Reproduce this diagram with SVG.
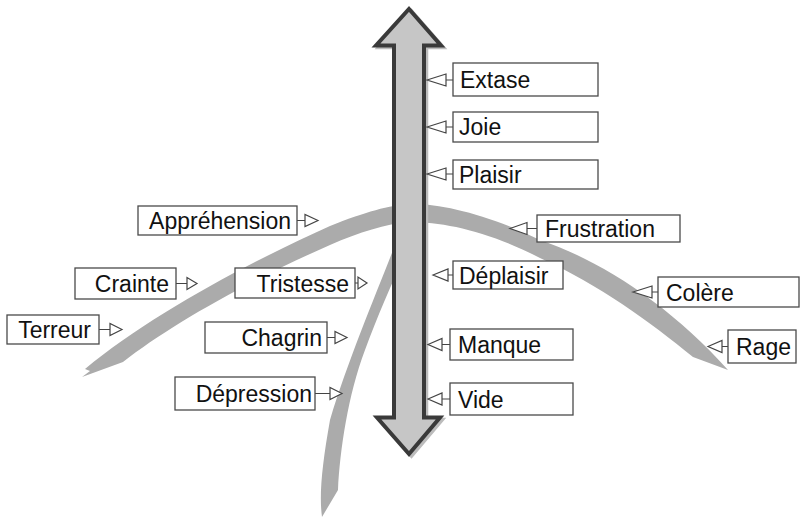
<svg xmlns="http://www.w3.org/2000/svg" width="803" height="518" viewBox="0 0 803 518">
  <style>
    .band { fill: #ababab; }
    .axis { fill: #c6c6c6; stroke: #3a3a3a; stroke-width: 4; stroke-linejoin: miter; }
    .axis-shadow { fill: none; stroke: #bcbcbc; stroke-width: 3.5; stroke-linejoin: miter; }
    .box { fill: #ffffff; stroke: #4a4a4a; stroke-width: 1.3; }
    .lbl { font-family: "Liberation Sans", Arial, sans-serif; font-size: 23px; fill: #111111; }
    .lbl-r { text-anchor: end; }
    .conn { fill: #ffffff; stroke: #444444; stroke-width: 1.2; stroke-linejoin: miter; }
  </style>

  <!-- grey curved bands -->
  <g id="bands">
    <path id="arc" class="band" d="M85,369 C150,315 250,262 330,226 C365,212 390,205 410,204 C440,203 490,215 540,240 C600,260 670,305 728,370 L693,357 C650,322 600,285 540,258 C490,232 445,222 410,222 C385,224 360,232 330,245 C250,280 170,325 123,362 L82,377 L90,371 Z"/>
    <path id="branch" class="band" d="M395,245 C377,292 348,360 330,420 C322,465 319,495 322,517 L338,490 C340,450 348,395 365,350 C378,315 395,275 410,245 Z"/>
  </g>

  <!-- vertical double-headed axis -->
  <g id="axis">
    <path class="axis-shadow" d="M411.5,11 L443.5,47.5 L426.5,47.5 L426.5,419.5 L442.5,419.5 L411.5,456 L379.5,419.5 L396.5,419.5 L396.5,47.5 L378.5,47.5 Z"/>
    <path class="axis" d="M409,9 L441,45.5 L424,45.5 L424,417.5 L440,417.5 L409,454 L377,417.5 L394,417.5 L394,45.5 L376,45.5 Z"/>
  </g>

  <!-- connectors: open triangles pointing at the axis or the bands -->
  <g id="connectors">
    <!-- right side, pointing left -->
    <path class="conn" d="M446,80 L453,80 M427,80 L446,74 L446,86 Z"/>
    <path class="conn" d="M446,127 L453,127 M427,127 L446,121 L446,133 Z"/>
    <path class="conn" d="M446,174 L453,174 M427,174 L446,168 L446,180 Z"/>
    <path class="conn" d="M527,228.5 L537,228.5 M510,228.5 L527,222.5 L527,234.5 Z"/>
    <path class="conn" d="M448,275 L453,275 M433,275 L448,269 L448,281 Z"/>
    <path class="conn" d="M652,292 L658,292 M633,292 L652,286 L652,298 Z"/>
    <path class="conn" d="M442,344.5 L450,344.5 M428,344.5 L442,338.5 L442,350.5 Z"/>
    <path class="conn" d="M722,346.5 L728,346.5 M708,346.5 L722,340.5 L722,352.5 Z"/>
    <path class="conn" d="M442,399 L450,399 M428,399 L442,393 L442,405 Z"/>
    <!-- left side, pointing right -->
    <path class="conn" d="M297,220.5 L305,220.5 M318,220.5 L305,214.5 L305,226.5 Z"/>
    <path class="conn" d="M176,283.5 L187,283.5 M197,283.5 L187,277.5 L187,289.5 Z"/>
    <path class="conn" d="M355,283 L358,283 M367,283 L358,277 L358,289 Z"/>
    <path class="conn" d="M99,329.5 L110,329.5 M122,329.5 L110,323.5 L110,335.5 Z"/>
    <path class="conn" d="M327,337.5 L335,337.5 M347,337.5 L335,331.5 L335,343.5 Z"/>
    <path class="conn" d="M315,393.5 L330,393.5 M342,393.5 L330,387.5 L330,399.5 Z"/>
  </g>

  <!-- label nodes -->
  <g id="extase"><rect class="box" x="453" y="63" width="145" height="33"/><text class="lbl" x="460" y="87.5">Extase</text></g>
  <g id="joie"><rect class="box" x="453" y="112" width="145" height="30"/><text class="lbl" x="459" y="135">Joie</text></g>
  <g id="plaisir"><rect class="box" x="453" y="160" width="145" height="29"/><text class="lbl" x="459" y="182.5">Plaisir</text></g>
  <g id="frustration"><rect class="box" x="537" y="215" width="143" height="27"/><text class="lbl" x="545" y="237">Frustration</text></g>
  <g id="deplaisir"><rect class="box" x="453" y="261" width="110" height="28"/><text class="lbl" x="459" y="283.5">Déplaisir</text></g>
  <g id="colere"><rect class="box" x="658" y="277" width="141" height="30"/><text class="lbl" x="666" y="300.5">Colère</text></g>
  <g id="manque"><rect class="box" x="450" y="329" width="123" height="31"/><text class="lbl" x="458" y="353">Manque</text></g>
  <g id="rage"><rect class="box" x="728" y="330" width="68" height="33"/><text class="lbl" x="736" y="355">Rage</text></g>
  <g id="vide"><rect class="box" x="450" y="383" width="123" height="32"/><text class="lbl" x="458" y="407.5">Vide</text></g>

  <g id="apprehension"><rect class="box" x="138" y="206" width="159" height="29"/><text class="lbl lbl-r" x="291" y="229">Appréhension</text></g>
  <g id="crainte"><rect class="box" x="75" y="268" width="101" height="31"/><text class="lbl lbl-r" x="169" y="292">Crainte</text></g>
  <g id="tristesse"><rect class="box" x="235" y="268" width="120" height="30"/><text class="lbl lbl-r" x="349" y="291.5">Tristesse</text></g>
  <g id="terreur"><rect class="box" x="7" y="315" width="92" height="29"/><text class="lbl lbl-r" x="91" y="338">Terreur</text></g>
  <g id="chagrin"><rect class="box" x="205" y="322" width="122" height="31"/><text class="lbl lbl-r" x="322" y="346">Chagrin</text></g>
  <g id="depression"><rect class="box" x="175" y="377" width="140" height="33"/><text class="lbl lbl-r" x="312" y="402">Dépression</text></g>
</svg>
